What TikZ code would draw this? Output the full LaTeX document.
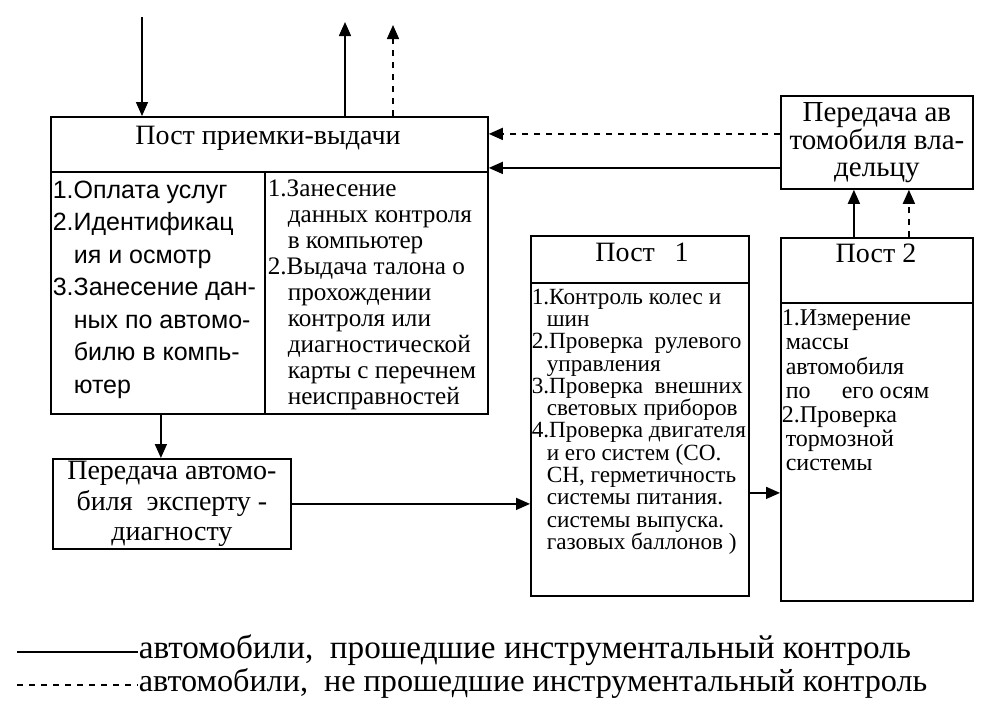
\documentclass[tikz,border=0pt]{standalone}
\usepackage{fontspec}
\setmainfont{Liberation Serif}
\setsansfont{Liberation Sans}
\usetikzlibrary{arrows.meta}

\tikzset{
  box/.style={draw, line width=0.9pt, inner sep=0pt, anchor=north west},
  head/.style={font=\fontsize{14}{16}\selectfont, inner sep=0pt},
  items/.style={align=left, inner sep=0pt, anchor=north west},
  legend/.style={inner sep=0pt, anchor=base west},
  notpassed/.style={dash pattern=on 3pt off 3pt},
}
\newcommand{\ind}[1]{\hspace*{#1}}

\begin{document}
\begin{tikzpicture}[x=0.5pt, y=-0.5pt, >={Triangle[length=7pt, width=6pt]}, line width=0.8pt]
    \useasboundingbox (0,0) rectangle (991,720);

    % the reception box
    \node[box, minimum width=218.5pt, minimum height=148.5pt] (main) at (50,116) {};
    \node[head] (maintitle) at (268,138) {Пост приемки-выдачи};
    % header line and column divider of the reception box
    \coordinate (mainhdr) at (50,172);
    \draw[line width=0.9pt] (mainhdr) -- (mainhdr -| main.east);
    \coordinate (maindiv) at (265,172);
    \draw[line width=0.9pt] (maindiv) -- (maindiv |- main.south);
    % left column
    \node[items, font=\sffamily\fontsize{12.5}{16.25}\selectfont] (mainleft) at (52,180) {%
        1.Оплата услуг\\
        2.Идентификац\\
        \ind{10.5pt}ия и осмотр\\
        3.Занесение дан-\\
        \ind{10.5pt}ных по автомо-\\
        \ind{10.5pt}билю в компь-\\
        \ind{10.5pt}ютер};
    % right column
    \node[items, font=\fontsize{12.6}{13}\selectfont] (mainright) at (267,179) {%
        1.Занесение\\
        \ind{10pt}данных контроля\\
        \ind{10pt}в компьютер\\
        2.Выдача талона о\\
        \ind{10pt}прохождении\\
        \ind{10pt}контроля или\\
        \ind{10pt}диагностической\\
        \ind{10pt}карты с перечнем\\
        \ind{10pt}неисправностей};

    % the owner box
    \node[box, align=center, minimum width=96pt, minimum height=46.5pt,
          font=\fontsize{14.5}{13.25}\selectfont] (owner) at (780,95)
        {Передача ав\\томобиля вла-\\дельцу};

    % the expert box
    \node[box, align=center, minimum width=119pt, minimum height=45pt,
          font=\fontsize{14}{15.25}\selectfont] (expert) at (52,458)
        {Передача автомо-\\биля\ \ эксперту -\\диагносту};

    % Post 1
    \node[box, minimum width=109pt, minimum height=180pt] (post1) at (530,235) {};
    \node[head] (p1title) at (642,252) {Пост\hspace{0.7em}1};
    \coordinate (p1hdr) at (530,283);
    \draw[line width=0.9pt] (p1hdr) -- (p1hdr -| post1.east);
    \node[items, font=\fontsize{11.6}{11.15}\selectfont] (p1items) at (531,288) {%
        1.Контроль колес и\\
        \ind{7.5pt}шин\\
        2.Проверка\ \ рулевого\\
        \ind{7.5pt}управления\\
        3.Проверка\ \ внешних\\
        \ind{7.5pt}световых приборов\\
        4.Проверка двигателя\\
        \ind{7.5pt}и его систем (СО.\\
        \ind{7.5pt}СН, герметичность\\
        \ind{7.5pt}системы питания.\\
        \ind{7.5pt}системы выпуска.\\
        \ind{7.5pt}газовых баллонов )};

    % Post 2
    \node[box, minimum width=96pt, minimum height=181.5pt] (post2) at (780,237) {};
    \node[head] (p2title) at (876,253) {Пост 2};
    \coordinate (p2hdr) at (780,303);
    \draw[line width=0.9pt] (p2hdr) -- (p2hdr -| post2.east);
    \node[items, font=\fontsize{12}{12.1}\selectfont] (p2items) at (781,309) {%
        1.Измерение\\
        \ind{2pt}массы\\
        \ind{2pt}автомобиля\\
        \ind{2pt}по\hspace{1.3em}его осям\\
        2.Проверка\\
        \ind{2pt}тормозной\\
        \ind{2pt}системы};

    % cars coming in and going out at the top
    \coordinate (carin) at (142,17);
    \draw[->] (carin) -- (carin |- main.north);
    \coordinate (carout) at (345,22);
    \draw[->] (carout |- main.north) -- (carout);
    \coordinate (carback) at (393,25);
    \draw[->, notpassed] (carback |- main.north) -- (carback);

    % owner box back to the reception box
    \coordinate (ownerback) at ([yshift=4.25pt]owner.west);
    \draw[->, notpassed] (ownerback) -- (ownerback -| main.east);
    \coordinate (ownerok) at ([yshift=-12.75pt]owner.west);
    \draw[->] (ownerok) -- (ownerok -| main.east);

    % Post 2 up to the owner box
    \coordinate (p2ok) at ([xshift=-11.5pt]post2.north);
    \draw[->] (p2ok) -- (p2ok |- owner.south);
    \coordinate (p2back) at ([xshift=16pt]post2.north);
    \draw[->, notpassed] (p2back) -- (p2back |- owner.south);

    % reception -> expert -> Post 1 -> Post 2
    \coordinate (mainout) at ([xshift=-54.25pt]main.south);
    \draw[->] (mainout) -- (mainout |- expert.north);
    \draw[->] (expert.east) -- (expert.east -| post1.west);
    \coordinate (p1out) at ([yshift=-38.5pt]post1.east);
    \draw[->] (p1out) -- (p1out -| post2.west);

    % the legend
    \node[legend, font=\fontsize{16.6}{20}\selectfont] (lgsolid) at (138,658)
        {автомобили,\ \ прошедшие инструментальный контроль};
    \node[legend, font=\fontsize{16.1}{20}\selectfont] (lgdashed) at (138,691)
        {автомобили,\ \ не прошедшие инструментальный контроль};
    \coordinate (lgA) at (17,652);
    \draw (lgA) -- (lgA -| lgsolid.west);
    \coordinate (lgB) at (17,685);
    \draw[notpassed] (lgB) -- (lgB -| lgdashed.west);
\end{tikzpicture}
\end{document}
